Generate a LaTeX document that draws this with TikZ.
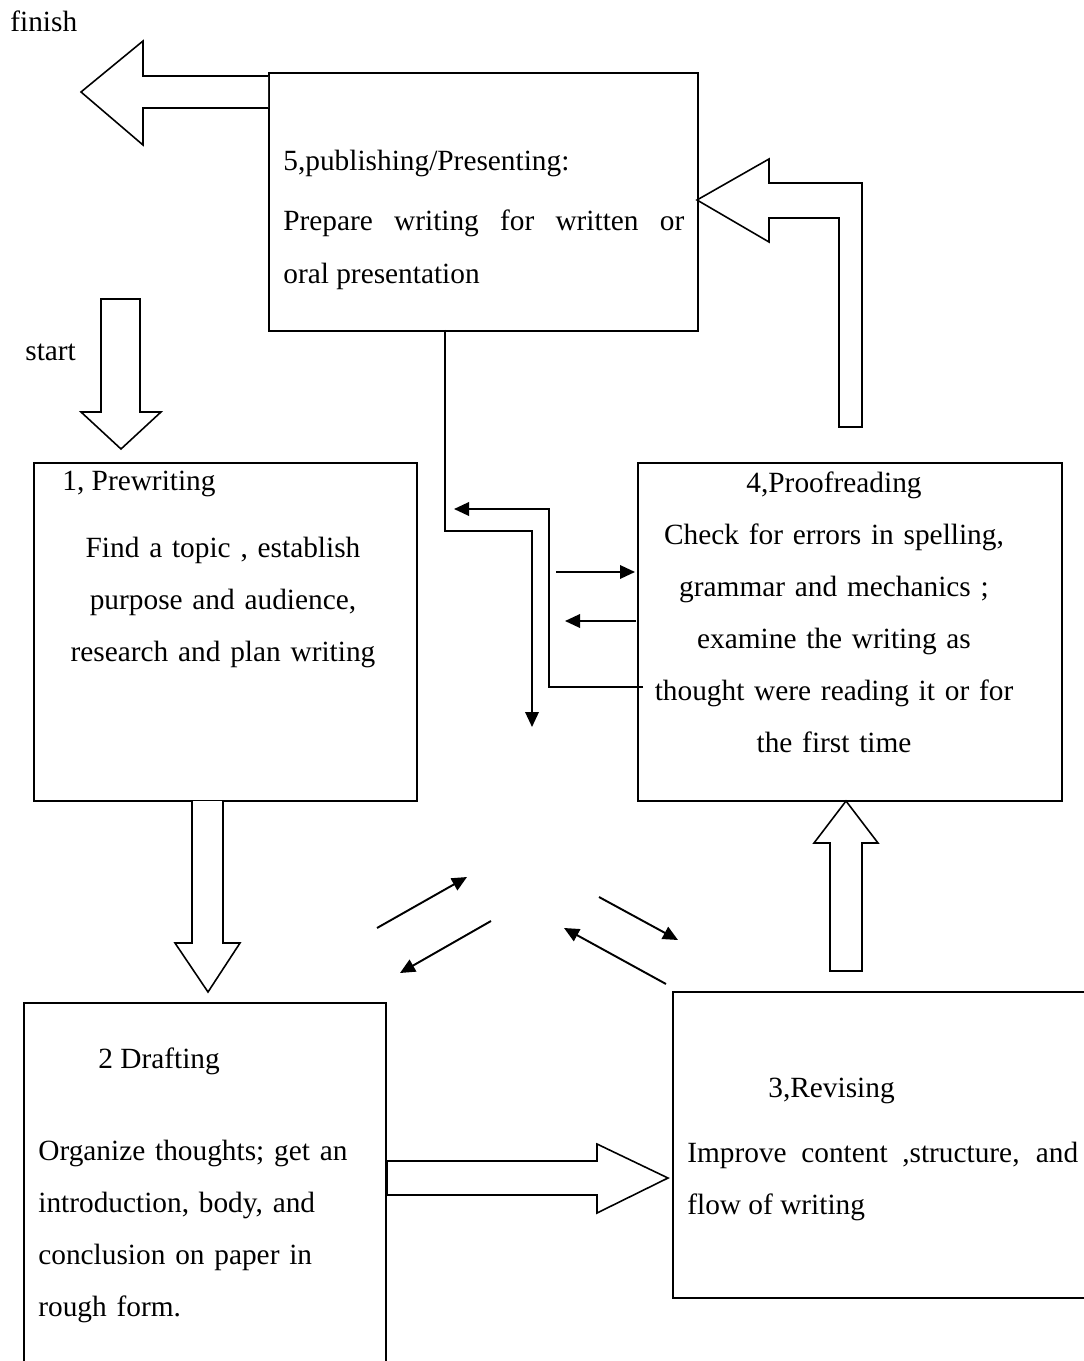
\documentclass[tikz,border=0pt]{standalone}
\usepackage{fontspec}
\setmainfont{Liberation Serif}
\usepackage{tikz}
\usetikzlibrary{arrows.meta}
\usetikzlibrary{positioning}
\tikzstyle{stage} = [draw=black, line width=1.1pt, fill=white, anchor=north west, inner sep=0pt]
\tikzstyle{txt} = [inner sep=0pt, font=\fontsize{16.7pt}{29.6pt}\selectfont]
\tikzstyle{blockarrow} = [draw=black, line width=0.9pt, line join=miter, fill=white]
\tikzstyle{thinarrow} = [-{Triangle[length=0.3cm,width=0.27cm]}, line width=1.1pt]

\begin{document}
\begin{tikzpicture}[x=0.02cm, y=-0.02cm]

  \useasboundingbox (0,0) rectangle (1084,1361);

  % boxes
  \node[stage, minimum width=8.58cm, minimum height=5.16cm] (publish) at (268,72) {};
  \node[stage, minimum width=7.66cm, minimum height=6.76cm] (prewrite) at (33,462) {};
  \node[stage, minimum width=8.48cm, minimum height=6.76cm] (proofread) at (637,462) {};
  \node[stage, minimum width=7.24cm, minimum height=7.6cm] (drafting) at (23,1002) {};
  \node[stage, minimum width=8.6cm, minimum height=6.12cm] (revising) at (672,991) {};

  % texts
  \node[txt, anchor=base west] (finish) at (10,32) {finish};
  \node[txt, anchor=base west] (start) at (25,361) {start};

  \node[txt, anchor=base west] (publishhead) at (283,171) {5,publishing/Presenting:};
  \node[txt, anchor=base west, text width=8.02cm, align=justify] (publishtext) at (283,231)
    {Prepare writing for written or\linebreak oral presentation};

  \node[txt, anchor=base west] (prewritehead) at (62,490) {1, Prewriting};
  \node[txt, anchor=base, text width=7cm, align=center] (prewritetext) at (223,557)
    {Find a topic , establish\\ purpose and audience,\\ research and plan writing};

  \node[txt, anchor=base, text width=8cm, align=center] (proofreadtext) at (834,492)
    {4,Proofreading\\ Check for errors in spelling,\\ grammar and mechanics ;\\ examine the writing as\\ thought were reading it or for\\ the first time};

  \node[txt, anchor=base west] (draftinghead) at (98,1068) {2 Drafting};
  \node[txt, anchor=base west, text width=7cm, align=left] (draftingtext) at (38,1160)
    {Organize thoughts; get an\\ introduction, body, and\\ conclusion on paper in\\ rough form.};

  \node[txt, anchor=base west] (revisinghead) at (768,1097) {3,Revising};
  \node[txt, anchor=base west, text width=7.82cm, align=justify] (revisingtext) at (687,1162)
    {Improve content ,structure, and\linebreak flow of writing};

  % block arrows
  \draw[blockarrow] (268,76) -- (143,76) -- (143,41) -- (81,92) -- (143,145) -- (143,108) -- (268,108);
  \draw[blockarrow] (101,299) -- (140,299) -- (140,412) -- (161,412) -- (121,449) -- (81,412) -- (101,412) -- cycle;
  \draw[blockarrow] (192,801) -- (192,943) -- (175,943) -- (208,992) -- (240,943) -- (223,943) -- (223,801);
  \draw[blockarrow] (387,1161) -- (597,1161) -- (597,1144) -- (668,1178) -- (597,1213) -- (597,1195) -- (387,1195) -- cycle;
  \draw[blockarrow] (830,971) -- (830,843) -- (814,843) -- (846,801) -- (878,843) -- (862,843) -- (862,971) -- cycle;
  \draw[blockarrow] (839,427) -- (839,218) -- (769,218) -- (769,242) -- (697,200) -- (769,159) -- (769,183) -- (862,183) -- (862,427) -- cycle;

  % thin arrows
  \coordinate (a1) at (445,330);
  \coordinate (a2) at (532,727);
  \coordinate (b1) at (643,687);
  \coordinate (b2) at (454,509);
  \draw[thinarrow] (a1) -- (445,531) -- (532,531) -- (a2);
  \draw[thinarrow] (b1) -- (549,687) -- (549,509) -- (b2);
  \draw[thinarrow] (556,572) -- (635,572);
  \draw[thinarrow] (636,621) -- (565,621);

  \draw[thinarrow] (377,928) -- (467,877);
  \draw[thinarrow] (491,921) -- (400,973);
  \draw[thinarrow] (599,897) -- (678,940);
  \draw[thinarrow] (666,984) -- (564,928);

\end{tikzpicture}
\end{document}
